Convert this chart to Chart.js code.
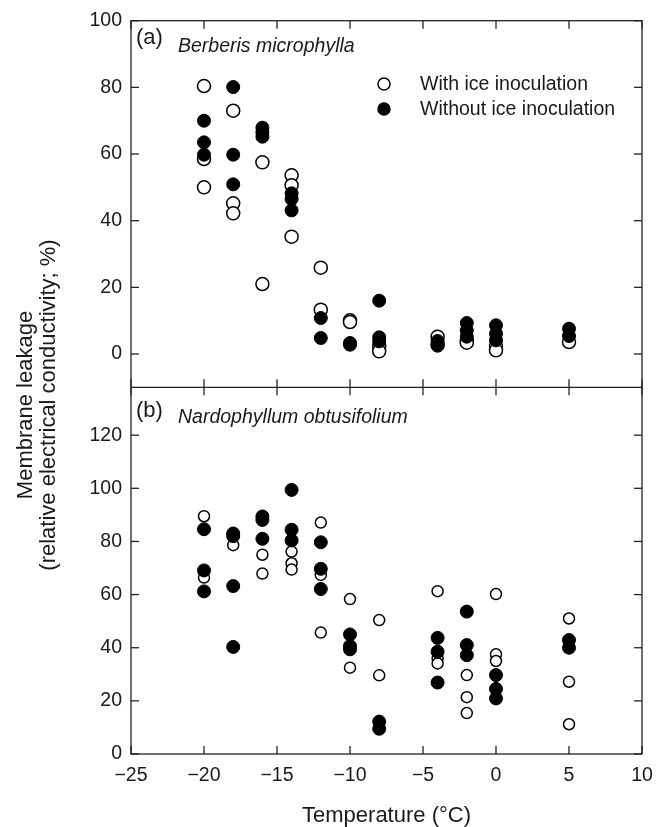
<!DOCTYPE html>
<html>
<head>
<meta charset="utf-8">
<script src="https://cdn.jsdelivr.net/npm/chart.js@4.4.0/dist/chart.umd.min.js"></script>
<style>
  html, body { margin: 0; padding: 0; background: #fff; }
</style>
</head>
<body>
<canvas id="chartCanvas" width="668" height="827"></canvas>
<script>
// tick values
const xTicks = [-25, -20, -15, -10, -5, 0, 5, 10];
const yTicksA = [0, 20, 40, 60, 80, 100];
const yTicksB = [0, 20, 40, 60, 80, 100, 120];

// (a) Berberis microphylla
const aWithX = [-20, -20, -20, -18, -18, -18, -16, -16, -14, -14, -14, -12, -12, -10, -10, -8, -8, -4, -4, -2, -2, 0, 0, 5];
const aWithY = [80.4, 58.5, 50.0, 73.0, 45.2, 42.2, 57.5, 21.0, 53.6, 50.6, 35.2, 25.9, 13.3, 10.1, 9.6, 2.3, 0.8, 5.2, 2.8, 4.0, 3.4, 2.4, 1.1, 3.6];
const aWithoutX = [-20, -20, -20, -18, -18, -18, -16, -16, -16, -14, -14, -14, -12, -12, -10, -10, -8, -8, -8, -4, -4, -2, -2, -2, 0, 0, 0, 5, 5];
const aWithoutY = [70.0, 63.5, 59.8, 80.1, 59.8, 50.9, 67.9, 66.5, 65.2, 48.2, 46.5, 43.1, 10.8, 4.8, 3.3, 2.8, 16.0, 5.0, 3.8, 3.9, 2.5, 9.3, 7.1, 5.2, 8.6, 6.1, 4.1, 7.6, 5.4];

// (b) Nardophyllum obtusifolium
const bWithX = [-20, -20, -18, -16, -16, -14, -14, -14, -12, -12, -12, -10, -10, -8, -8, -4, -4, -4, -2, -2, -2, 0, 0, 0, 5, 5, 5];
const bWithY = [89.5, 66.4, 78.6, 75.0, 67.9, 76.2, 71.8, 69.4, 87.1, 67.4, 45.7, 58.3, 32.5, 50.4, 29.6, 61.3, 36.0, 34.1, 29.7, 21.4, 15.4, 60.2, 37.5, 35.0, 51.0, 27.2, 11.2];
const bWithoutX = [-20, -20, -20, -18, -18, -18, -18, -16, -16, -16, -14, -14, -14, -12, -12, -12, -10, -10, -10, -8, -8, -4, -4, -4, -2, -2, -2, 0, 0, 0, 5, 5];
const bWithoutY = [84.6, 69.1, 61.2, 83.0, 82.0, 63.2, 40.3, 89.4, 88.1, 81.0, 99.4, 84.4, 80.4, 79.7, 69.7, 62.1, 45.0, 40.6, 39.4, 12.2, 9.5, 43.7, 38.5, 26.9, 53.6, 41.0, 37.2, 29.7, 24.5, 20.9, 42.9, 40.0];

const FONT = "'Liberation Sans', Arial, sans-serif";
const INK = "#1a1a1a";

const pts = (xs, ys) => xs.map((x, i) => ({ x: x, y: ys[i] }));

const openStyle = { backgroundColor: "#fff", borderColor: "#000", borderWidth: 1.5 };
const filledStyle = { backgroundColor: "#000", borderColor: "#000", borderWidth: 1 };

// frame, divider and inward ticks
const framePlugin = {
  id: "frame",
  beforeDatasetsDraw(chart) {
    const { ctx, chartArea: a, scales } = chart;
    const mid = scales.yA.bottom;
    const len = 8;
    const line = (x1, y1, x2, y2) => {
      ctx.beginPath();
      ctx.moveTo(x1, y1);
      ctx.lineTo(x2, y2);
      ctx.stroke();
    };
    ctx.save();
    ctx.strokeStyle = "#222";
    ctx.lineWidth = 1.3;
    ctx.strokeRect(a.left, a.top, a.right - a.left, a.bottom - a.top);
    line(a.left, mid, a.right, mid);
    xTicks.forEach((v) => {
      const px = scales.x.getPixelForValue(v);
      line(px, a.top, px, a.top + len);
      line(px, mid - len, px, mid + len);
      line(px, a.bottom, px, a.bottom - len);
    });
    yTicksA.forEach((v) => {
      const py = scales.yA.getPixelForValue(v);
      line(a.left, py, a.left + len, py);
      line(a.right, py, a.right - len, py);
    });
    yTicksB.forEach((v) => {
      const py = scales.yB.getPixelForValue(v);
      line(a.left, py, a.left + len, py);
      line(a.right, py, a.right - len, py);
    });
    ctx.restore();
  },
  afterDraw(chart) {
    const { ctx, chartArea: a, scales } = chart;
    const mid = scales.yA.bottom;
    ctx.save();
    ctx.fillStyle = INK;
    ctx.textBaseline = "alphabetic";
    ctx.textAlign = "left";

    // panel labels
    ctx.font = "22px " + FONT;
    ctx.fillText("(a)", a.left + 5, a.top + 23);
    ctx.fillText("(b)", a.left + 5, mid + 30);
    ctx.font = "italic 19.5px " + FONT;
    ctx.fillText("Berberis microphylla", a.left + 47, a.top + 31);
    ctx.fillText("Nardophyllum obtusifolium", a.left + 47, mid + 36);

    // legend
    const ds = chart.data.datasets;
    const legend = [ds[1], ds[0]];
    ctx.font = "19.5px " + FONT;
    ctx.textBaseline = "middle";
    legend.forEach((d, i) => {
      const cy = 84 + i * 25;
      ctx.beginPath();
      ctx.arc(384, cy, 6, 0, Math.PI * 2);
      ctx.fillStyle = d.backgroundColor;
      ctx.fill();
      ctx.lineWidth = 1.5;
      ctx.strokeStyle = "#000";
      ctx.stroke();
      ctx.fillStyle = INK;
      ctx.fillText(d.label, 420, cy + 1);
    });

    // axis titles
    ctx.font = "22px " + FONT;
    ctx.textAlign = "center";
    ctx.fillText("Temperature (\u00B0C)", (a.left + a.right) / 2, 816);
    ctx.translate(26, 405);
    ctx.rotate(-Math.PI / 2);
    ctx.fillText("Membrane leakage", 0, 0);
    ctx.fillText("(relative electrical conductivity; %)", 0, 23);
    ctx.restore();
  },
};

const yCommon = {
  type: "linear",
  position: "left",
  stack: "panels",
  stackWeight: 1,
  grid: { display: false, drawTicks: false },
  border: { display: false },
  afterFit: (s) => { s.width = 131; },
  ticks: { color: INK, padding: 9, font: { family: FONT, size: 19.5 } },
};

const ctx = document.getElementById("chartCanvas").getContext("2d");

new Chart(ctx, {
  type: "scatter",
  data: {
    datasets: [
      { label: "Without ice inoculation", data: pts(aWithoutX, aWithoutY), yAxisID: "yA", pointRadius: 6.5, ...filledStyle },
      { label: "With ice inoculation", data: pts(aWithX, aWithY), yAxisID: "yA", pointRadius: 6.5, ...openStyle },
      { label: "Without ice inoculation", data: pts(bWithoutX, bWithoutY), yAxisID: "yB", pointRadius: 6.5, ...filledStyle },
      { label: "With ice inoculation", data: pts(bWithX, bWithY), yAxisID: "yB", pointRadius: 5.5, ...openStyle },
    ],
  },
  options: {
    responsive: false,
    animation: false,
    layout: { padding: { top: 18, right: 26, left: 0, bottom: 0 } },
    plugins: { legend: { display: false }, tooltip: { enabled: false } },
    elements: { point: { hoverRadius: 6 } },
    scales: {
      x: {
        type: "linear",
        min: -25,
        max: 10,
        grid: { display: false, drawTicks: false },
        border: { display: false },
        afterFit: (s) => { s.height = 73; },
        afterBuildTicks: (s) => { s.ticks = xTicks.map((v) => ({ value: v })); },
        ticks: {
          color: INK,
          padding: 10,
          font: { family: FONT, size: 19.5 },
          callback: (v) => (v < 0 ? "\u2212" + Math.abs(v) : String(v)),
        },
      },
      // stacked axes are placed bottom-up, so panel (b) comes first
      yB: {
        ...yCommon,
        min: 0,
        max: 138,
        afterBuildTicks: (s) => { s.ticks = yTicksB.map((v) => ({ value: v })); },
      },
      yA: {
        ...yCommon,
        min: -10,
        max: 100,
        afterBuildTicks: (s) => { s.ticks = yTicksA.map((v) => ({ value: v })); },
      },
    },
  },
  plugins: [framePlugin],
});
</script>
</body>
</html>
